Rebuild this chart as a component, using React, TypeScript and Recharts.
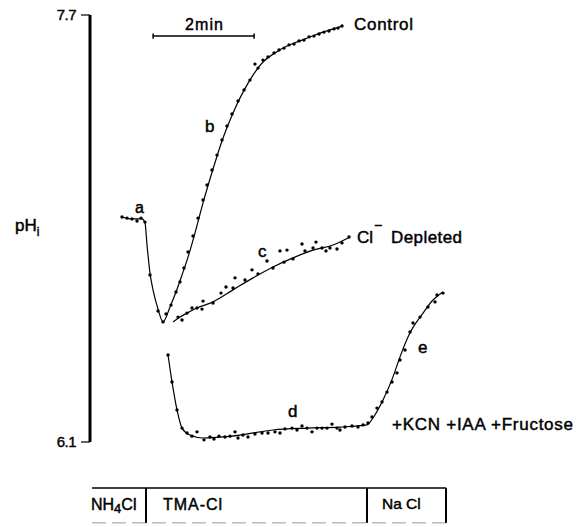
import { ComposedChart, Line, Scatter, XAxis, YAxis, ReferenceLine } from 'recharts'

// time in minutes, pH inside the cell
const fitControl: [number, number][] = [
  [0.634, 6.943], [0.792, 6.936], [1.03, 6.936], [1.089, 6.921], [1.129, 6.838],
  [1.188, 6.733], [1.248, 6.67], [1.347, 6.598], [1.446, 6.55], [1.584, 6.606],
  [1.703, 6.662], [1.822, 6.726], [1.941, 6.793], [2.079, 6.883], [2.238, 6.996],
  [2.436, 7.123], [2.634, 7.239], [2.832, 7.333], [3.03, 7.411], [3.228, 7.475],
  [3.426, 7.524], [3.663, 7.558], [3.901, 7.584], [4.158, 7.603], [4.455, 7.625],
  [4.752, 7.644], [5.01, 7.659],
]

const dotsControl: [number, number][] = [
  [0.634, 6.943], [0.733, 6.939], [0.832, 6.936], [0.931, 6.928], [1.01, 6.939],
  [1.089, 6.924], [1.188, 6.726], [1.347, 6.591], [1.446, 6.55],
  [1.505, 6.58], [1.604, 6.613], [1.703, 6.662], [1.782, 6.7], [1.861, 6.752],
  [1.941, 6.812], [2.04, 6.872], [2.139, 6.939], [2.238, 7.007], [2.317, 7.063],
  [2.416, 7.119], [2.515, 7.175], [2.614, 7.232], [2.713, 7.284], [2.812, 7.329],
  [2.931, 7.378], [3.05, 7.419], [3.168, 7.456], [3.267, 7.516], [3.327, 7.501],
  [3.426, 7.531], [3.525, 7.543], [3.644, 7.558], [3.743, 7.569], [3.842, 7.576],
  [3.941, 7.588], [4.04, 7.591], [4.139, 7.603], [4.238, 7.606], [4.337, 7.618],
  [4.436, 7.621], [4.535, 7.629], [4.634, 7.636], [4.733, 7.64], [4.832, 7.648],
  [4.911, 7.651], [4.99, 7.659],
]

const fitDepleted: [number, number][] = [
  [1.644, 6.55], [1.782, 6.568], [1.921, 6.583], [2.119, 6.602], [2.436, 6.625],
  [2.832, 6.67], [3.228, 6.715], [3.624, 6.756], [4.02, 6.79], [4.416, 6.819],
  [4.812, 6.838], [5.149, 6.868],
]

const dotsDepleted: [number, number][] = [
  [1.743, 6.568], [1.822, 6.557], [1.921, 6.583], [2.02, 6.602], [2.119, 6.602],
  [2.218, 6.598], [2.238, 6.628], [2.436, 6.621], [2.594, 6.658], [2.693, 6.681],
  [2.832, 6.677], [2.871, 6.715], [3.069, 6.707], [3.208, 6.745], [3.327, 6.73],
  [3.505, 6.778], [3.624, 6.752], [3.762, 6.816], [3.842, 6.774], [3.901, 6.819],
  [4.02, 6.786], [4.198, 6.842], [4.257, 6.816], [4.416, 6.827], [4.475, 6.849],
  [4.594, 6.827], [4.673, 6.816], [4.752, 6.827], [4.891, 6.823], [4.99, 6.846],
  [5.129, 6.868],
]

const fitInhibited: [number, number][] = [
  [1.545, 6.426], [1.624, 6.325], [1.723, 6.22], [1.822, 6.152], [1.98, 6.126],
  [2.238, 6.115], [2.634, 6.119], [2.97, 6.126], [3.624, 6.145], [4.297, 6.152],
  [4.95, 6.156], [5.485, 6.164], [5.604, 6.19], [5.802, 6.257], [6.0, 6.344],
  [6.139, 6.419], [6.337, 6.509], [6.594, 6.583], [6.792, 6.632], [6.99, 6.662],
]

const dotsInhibited: [number, number][] = [
  [1.545, 6.426], [1.624, 6.325], [1.723, 6.22], [1.822, 6.152], [1.921, 6.134],
  [2.02, 6.122], [2.119, 6.138], [2.257, 6.108], [2.376, 6.119], [2.455, 6.111],
  [2.554, 6.122], [2.673, 6.119], [2.772, 6.122], [2.871, 6.138], [2.931, 6.115],
  [3.03, 6.126], [3.129, 6.119], [3.267, 6.13], [3.406, 6.134], [3.525, 6.134],
  [3.663, 6.138], [3.762, 6.134], [3.861, 6.149], [4.0, 6.152], [4.099, 6.145],
  [4.198, 6.16], [4.297, 6.152], [4.396, 6.138], [4.495, 6.152], [4.594, 6.152],
  [4.693, 6.152], [4.792, 6.167], [4.891, 6.152], [4.95, 6.145], [5.05, 6.156],
  [5.188, 6.16], [5.307, 6.156], [5.406, 6.164], [5.505, 6.171], [5.584, 6.194],
  [5.683, 6.227], [5.782, 6.25], [5.881, 6.287], [5.98, 6.325], [6.079, 6.359],
  [6.139, 6.407], [6.238, 6.445], [6.337, 6.512], [6.396, 6.546], [6.535, 6.568],
  [6.693, 6.606], [6.832, 6.625], [6.871, 6.651], [6.99, 6.658],
]

const yTicks = [6.1, 7.7]

// solution changes along the time axis (minutes)
const solutionEdges = [0.04, 1.109, 5.485, 7.05]
const solutionNames = ['NH4Cl', 'TMA-Cl', 'Na Cl']

// 2 min scale bar
const scaleBar = { from: 1.25, to: 3.25, ph: 7.621 }

const toPoints = (arr: [number, number][]) => arr.map(([t, ph]) => ({ t, ph }))

const font = '"Liberation Sans", Arial, Helvetica, sans-serif'

const Dot = (props: any) => <circle cx={props.cx} cy={props.cy} r={1.7} fill="#000" />

const YTick = (props: any) => (
  <text
    x={props.x}
    y={props.y}
    dy={5}
    textAnchor="end"
    fontSize={15}
    fontFamily={font}
    fill="#000"
    stroke="#000"
    strokeWidth={0.4}
    letterSpacing={-0.5}
  >
    {props.payload.value}
  </text>
)

export default function App() {
  const boxTop = 5.928
  const boxBottom = 5.797
  return (
    <div style={{ position: 'absolute', left: 0, top: 0, width: 580, height: 527, background: '#fff' }}>
      <ComposedChart
        width={580}
        height={527}
        margin={{ top: 15, right: 0, bottom: 85, left: 0 }}
        style={{ fontFamily: font }}
      >
        <XAxis type="number" dataKey="t" domain={[0, 9.703]} hide allowDataOverflow />
        <YAxis
          type="number"
          dataKey="ph"
          domain={[6.1, 7.7]}
          ticks={yTicks}
          width={90}
          allowDataOverflow
          tickSize={9}
          tickMargin={5}
          axisLine={{ stroke: '#000', strokeWidth: 3 }}
          tickLine={{ stroke: '#000', strokeWidth: 1.2 }}
          tick={YTick}
        />
        <Line data={toPoints(fitControl)} dataKey="ph" type="monotone" stroke="#000" strokeWidth={1.2} dot={false} isAnimationActive={false} />
        <Line data={toPoints(fitDepleted)} dataKey="ph" type="monotone" stroke="#000" strokeWidth={1.2} dot={false} isAnimationActive={false} />
        <Line data={toPoints(fitInhibited)} dataKey="ph" type="monotone" stroke="#000" strokeWidth={1.2} dot={false} isAnimationActive={false} />
        <Scatter data={toPoints(dotsControl)} dataKey="ph" shape={Dot} isAnimationActive={false} />
        <Scatter data={toPoints(dotsDepleted)} dataKey="ph" shape={Dot} isAnimationActive={false} />
        <Scatter data={toPoints(dotsInhibited)} dataKey="ph" shape={Dot} isAnimationActive={false} />

        <ReferenceLine segment={[{ x: scaleBar.from, y: scaleBar.ph }, { x: scaleBar.to, y: scaleBar.ph }]} stroke="#000" strokeWidth={1.5} ifOverflow="visible" />
        <ReferenceLine segment={[{ x: scaleBar.from, y: scaleBar.ph + 0.01 }, { x: scaleBar.from, y: scaleBar.ph - 0.01 }]} stroke="#000" strokeWidth={1.5} ifOverflow="visible" />
        <ReferenceLine segment={[{ x: scaleBar.to, y: scaleBar.ph + 0.01 }, { x: scaleBar.to, y: scaleBar.ph - 0.01 }]} stroke="#000" strokeWidth={1.5} ifOverflow="visible" />

        <ReferenceLine segment={[{ x: solutionEdges[0], y: boxTop }, { x: solutionEdges[3], y: boxTop }]} stroke="#000" strokeWidth={1.5} ifOverflow="visible" />
        <ReferenceLine segment={[{ x: solutionEdges[0], y: boxBottom }, { x: solutionEdges[3], y: boxBottom }]} stroke="#999" strokeWidth={1} strokeDasharray="14 6" ifOverflow="visible" />
        {solutionEdges.slice(1).map((e) => (
          <ReferenceLine key={e} segment={[{ x: e, y: boxTop }, { x: e, y: boxBottom }]} stroke="#000" strokeWidth={2} ifOverflow="visible" />
        ))}
      </ComposedChart>

      <svg
        width={580}
        height={527}
        style={{ position: 'absolute', left: 0, top: 0, pointerEvents: 'none', fontFamily: font }}
      >
        <g fill="#000" stroke="#000" strokeWidth={0.45}>
          <text x={185} y={30} fontSize={16} textLength={38}>2min</text>
          <text x={354} y={30} fontSize={17} textLength={59}>Control</text>
          <text x={205} y={132} fontSize={17}>b</text>
          <text x={135} y={213} fontSize={16}>a</text>
          <text x={258} y={257} fontSize={17}>c</text>
          <text x={357} y={243} fontSize={17}>
            Cl
          </text>
          <text x={374} y={230} fontSize={14}>−</text>
          <text x={391} y={243} fontSize={17} textLength={71}>Depleted</text>
          <text x={288} y={417} fontSize={17}>d</text>
          <text x={418} y={353} fontSize={17}>e</text>
          <text x={392} y={430} fontSize={17} textLength={181}>+KCN +IAA +Fructose</text>
          <text x={15} y={231} fontSize={17}>
            pH<tspan fontSize={12} dy={5}>i</tspan>
          </text>
          <text x={91} y={510} fontSize={16}>
            NH<tspan fontSize={13} dy={3}>4</tspan><tspan dy={-3}>Cl</tspan>
          </text>
          <text x={163} y={510} fontSize={16} textLength={59}>{solutionNames[1]}</text>
          <text x={382} y={509} fontSize={15.5}>{solutionNames[2]}</text>
        </g>
      </svg>
    </div>
  )
}
